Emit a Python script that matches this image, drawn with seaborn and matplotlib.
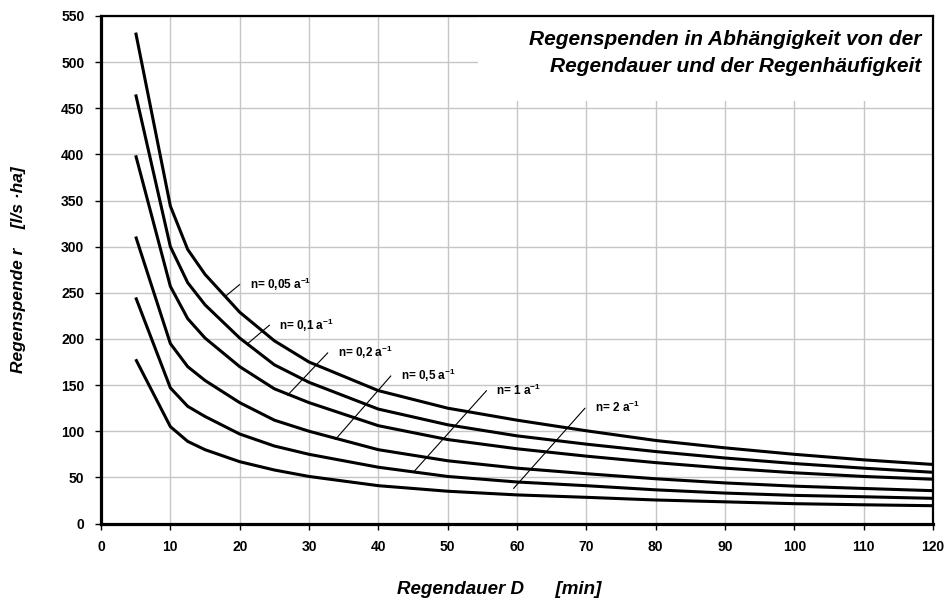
import matplotlib
matplotlib.use("Agg")
import matplotlib.pyplot as plt
from matplotlib.patches import Rectangle
import numpy as np
import pandas as pd
import seaborn as sns

# Rain duration D [min]
duration = [5, 10, 12.5, 15, 20, 25, 30, 40, 50, 60, 70, 80, 90, 100, 110, 120]

# Rain yield r [l/(s*ha)] per frequency n [1/a]
r_n005 = [532, 344, 297, 270, 229, 198, 175, 144, 125, 112, 100.5, 90, 82, 75, 69, 64]
r_n01 = [465, 300, 261, 237, 201, 172, 153, 124, 107, 95, 86, 78, 71, 65, 60, 55.5]
r_n02 = [399, 257, 222, 201, 170, 146, 131, 106, 91, 81, 73, 66, 60, 55, 51, 48]
r_n05 = [311, 195, 170, 155, 131, 112, 100, 80, 68, 60, 54, 48.5, 44, 40.5, 38, 35.6]
r_n1 = [245, 147, 127, 116, 97, 84, 75, 61, 51, 45, 41, 36.5, 33, 30.5, 29, 27.3]
r_n2 = [178, 105, 89, 80, 67, 58, 51, 41, 35, 31, 28.4, 25.5, 23.5, 21.5, 20.3, 19.3]

frequencies = ["0,05", "0,1", "0,2", "0,5", "1", "2"]
series = [r_n005, r_n01, r_n02, r_n05, r_n1, r_n2]

# Curve labels: leader line start/end (D, r) and text anchor (D, r)
leader_start = [(17.9, 246), (21.0, 194), (26.9, 139), (33.8, 91), (45.1, 56), (59.5, 38)]
leader_end = [(20.0, 259), (24.3, 215), (32.7, 185), (41.8, 160), (55.6, 144), (69.8, 125)]
label_pos = [(21.5, 259), (25.7, 215), (34.2, 185), (43.3, 161), (57.0, 144), (71.3, 126)]

rows = []
for n, vals in zip(frequencies, series):
    for d, r in zip(duration, vals):
        rows.append({"D": d, "r": r, "n": n})
df = pd.DataFrame(rows)

sns.set_theme(style="white")
plt.rcParams["font.family"] = ["Liberation Sans", "DejaVu Sans"]
plt.rcParams["text.color"] = "black"
plt.rcParams["xtick.color"] = "black"
plt.rcParams["ytick.color"] = "black"
plt.rcParams["axes.labelcolor"] = "black"
plt.rcParams["mathtext.fontset"] = "custom"
plt.rcParams["mathtext.rm"] = "Liberation Sans:bold"
plt.rcParams["mathtext.default"] = "rm"

fig = plt.figure(figsize=(9.46, 6.03), dpi=100)
ax = fig.add_axes([0.1068, 0.1318, 0.9863 - 0.1068, 0.9735 - 0.1318])

sns.lineplot(data=df, x="D", y="r", hue="n", palette=["black"] * 6,
             linewidth=2.2, legend=False, sort=False, ax=ax, zorder=3)
for line in ax.get_lines():
    line.set_solid_joinstyle("round")
    line.set_solid_capstyle("butt")

ax.set_xlim(0, 120)
ax.set_ylim(0, 550)
ax.set_xticks(np.arange(0, 121, 10))
ax.set_yticks(np.arange(0, 551, 50))
ax.grid(True, color="#c6c6c6", linewidth=1.0)
ax.set_axisbelow(True)

for lbl in ax.get_xticklabels() + ax.get_yticklabels():
    lbl.set_fontweight("bold")
    lbl.set_fontsize(10)
ax.tick_params(axis="both", direction="out", length=4, width=1, color="black",
               labelcolor="black", pad=8, left=True, bottom=True)

for side in ["left", "bottom"]:
    ax.spines[side].set_linewidth(2.3)
    ax.spines[side].set_color("black")
for side in ["top", "right"]:
    ax.spines[side].set_linewidth(1.6)
    ax.spines[side].set_color("black")

# White panel behind the title
ax.add_patch(Rectangle((54.4, 458), 120 - 54.4, 550 - 458, facecolor="white",
                       edgecolor="none", zorder=2))
ax.text(0.986, 0.972, "Regenspenden in Abhängigkeit von der\nRegendauer und der Regenhäufigkeit",
        transform=ax.transAxes, ha="right", va="top", fontsize=15,
        fontweight="bold", fontstyle="italic", linespacing=1.55, color="black", zorder=4)

for n, p0, p1, tp in zip(frequencies, leader_start, leader_end, label_pos):
    ax.plot([p0[0], p1[0]], [p0[1], p1[1]], color="black", linewidth=0.8, zorder=4)
    ax.text(tp[0], tp[1], "n= " + n + " a$^{-1}$", fontsize=8.5, fontweight="bold",
            ha="left", va="center", color="black", zorder=4)

ax.set_xlabel("")
ax.set_ylabel("")
fig.text(397 / 946, 1 - 590 / 603, "Regendauer D      [min]", ha="left", va="center",
         fontsize=13.5, fontweight="bold", fontstyle="italic", color="black")
fig.text(19 / 946, 1 - 270 / 603, "Regenspende r    [l/s ·ha]", ha="center", va="center",
         rotation=90, fontsize=12.5, fontweight="bold", fontstyle="italic", color="black")

fig.savefig("out.png", dpi=100)
